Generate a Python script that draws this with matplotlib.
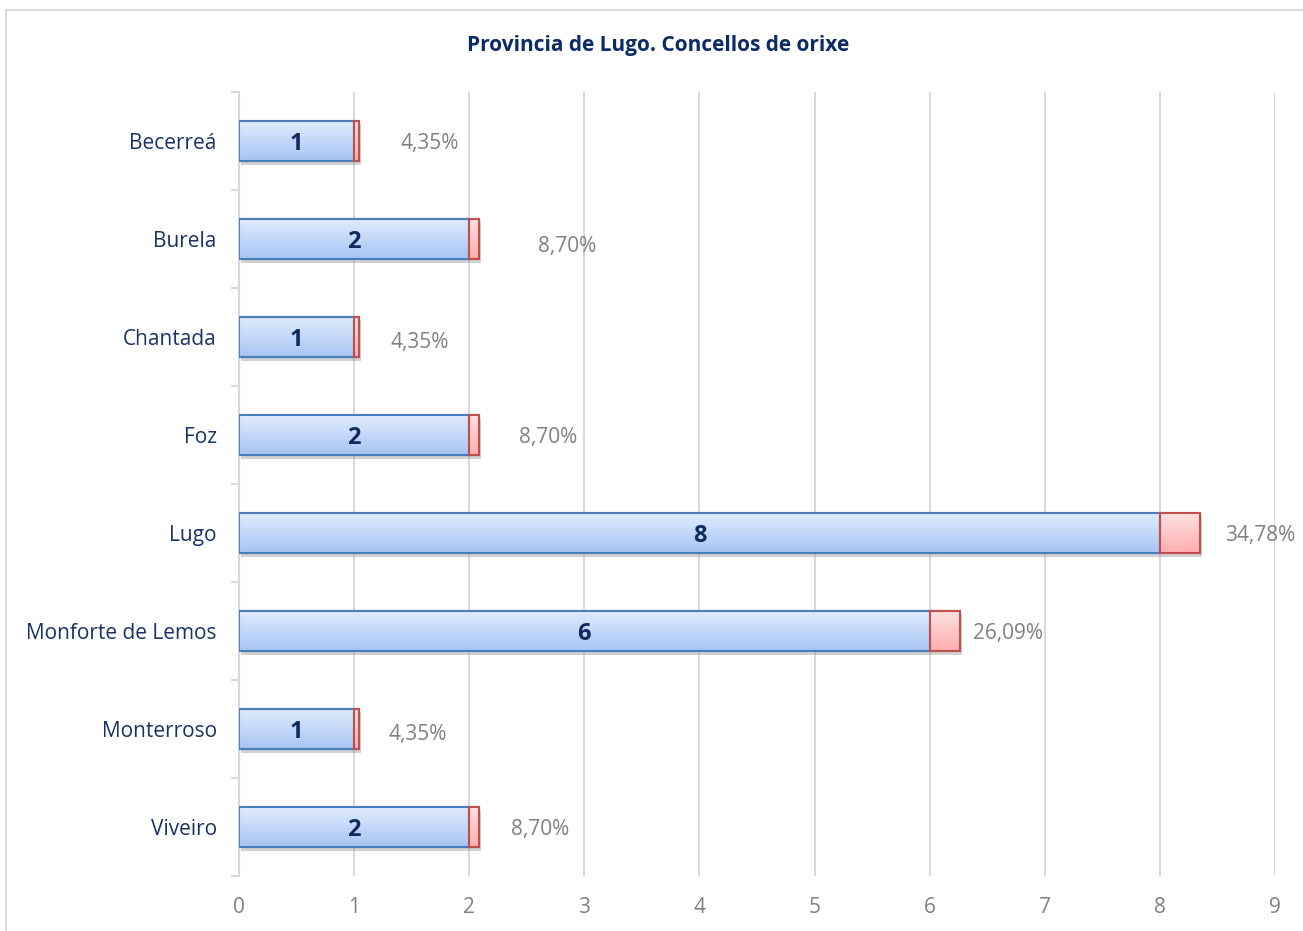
import matplotlib
matplotlib.use("Agg")
import matplotlib.pyplot as plt
import numpy as np
from matplotlib.patches import Rectangle
from matplotlib.colors import to_rgb
import matplotlib.patheffects as pe

# ---- data ----
concellos = ["Becerreá", "Burela", "Chantada", "Foz", "Lugo",
             "Monforte de Lemos", "Monterroso", "Viveiro"]
counts = [1, 2, 1, 2, 8, 6, 1, 2]
percents = [4.35, 8.70, 4.35, 8.70, 34.78, 26.09, 4.35, 8.70]
pct_labels = ["4,35%", "8,70%", "4,35%", "8,70%", "34,78%", "26,09%", "4,35%", "8,70%"]
# label anchor positions (data units) as placed in the original chart
pct_label_x = [1.407, 2.598, 1.312, 2.433, 8.566, 6.377, 1.295, 2.363]
pct_label_dy = [0.0, 0.05, 0.03, 0.0, 0.0, 0.0, 0.03, 0.0]
xticks = list(range(0, 10))
title = "Provincia de Lugo. Concellos de orixe"

FONT = "Open Sans"
navy = "#1a3366"
grey = "#808080"

fig = plt.figure(figsize=(13.03, 9.31), dpi=100)
# outer chart border
fig.patches.append(Rectangle((6 / 1303, -0.1), 1.2, 1 - 10 / 931 + 0.1,
                             transform=fig.transFigure, fill=False,
                             edgecolor="#d9d9d9", linewidth=1.5))

ax = fig.add_axes([239 / 1303, 1 - 876 / 931, (1275 - 239) / 1303, (876 - 92) / 931])

y = np.arange(len(concellos))
h = 0.41
red_w = [p / 100 for p in percents]


def gradient_bars(ypos, left, width, top_c, bot_c, edge_c):
    bars = ax.barh(ypos, width, left=left, height=h, color="white",
                   edgecolor=edge_c, linewidth=1.5, zorder=3)
    grad = np.linspace(0, 1, 64)[:, None, None]
    tc, bc = np.array(to_rgb(top_c)), np.array(to_rgb(bot_c))
    img = tc * (1 - grad) + bc * grad
    for b in bars:
        b.set_path_effects([pe.SimplePatchShadow(offset=(1.5, -2.5), shadow_rgbFace="#8f8f8f", alpha=0.4),
                            pe.Normal()])
        x0, y0 = b.get_x(), b.get_y()
        w, hh = b.get_width(), b.get_height()
        im = ax.imshow(img, extent=(x0, x0 + w, y0 + hh, y0), origin="upper",
                       aspect="auto", zorder=3.5, interpolation="bilinear")
        im.set_clip_path(b)
        ax.add_patch(Rectangle((x0, y0), w, hh, fill=False, edgecolor=edge_c,
                               linewidth=1.5, zorder=4))
    return bars


gradient_bars(y, 0, counts, "#e1ecfd", "#a6c5f4", "#4a7ebb")
gradient_bars(y, counts, red_w, "#ffe2e2", "#ffaeae", "#c0504d")

for yi, c in zip(y, counts):
    ax.text(c / 2, yi + 0.03, str(c), ha="center", va="center", fontsize=17,
            fontweight="bold", color="#0f2a5c", family=FONT, zorder=5)
for yi, lx, dy, lab in zip(y, pct_label_x, pct_label_dy, pct_labels):
    ax.text(lx, yi + dy + 0.03, lab, ha="left", va="center", fontsize=15,
            color=grey, family=FONT, zorder=5)

ax.set_xlim(0, 9)
ax.set_ylim(len(concellos) - 0.5, -0.5)
ax.set_xticks(xticks)
ax.set_xticklabels([str(t) for t in xticks], fontsize=15, color=grey, family=FONT)
ax.set_yticks(y)
ax.set_yticklabels(concellos, fontsize=15, color=navy, family=FONT)
ax.set_yticks(np.arange(-0.5, len(concellos)), minor=True)
ax.tick_params(axis="y", which="major", length=0, pad=16)
ax.tick_params(axis="y", which="minor", length=6, color="#d9d9d9", width=1.5)
ax.tick_params(axis="x", which="major", length=0, pad=15)

ax.grid(axis="x", color="#d9d9d9", linewidth=1.5, zorder=0)
ax.set_axisbelow(True)
for s in ["top", "right", "bottom"]:
    ax.spines[s].set_visible(False)
ax.spines["left"].set_color("#d9d9d9")
ax.spines["left"].set_linewidth(1.5)

fig.text(658 / 1303, 1 - 46 / 931, title, ha="center", va="center", fontsize=15,
         fontweight="bold", color="#0b2a66", family=FONT)

fig.savefig("out.png", dpi=100)
